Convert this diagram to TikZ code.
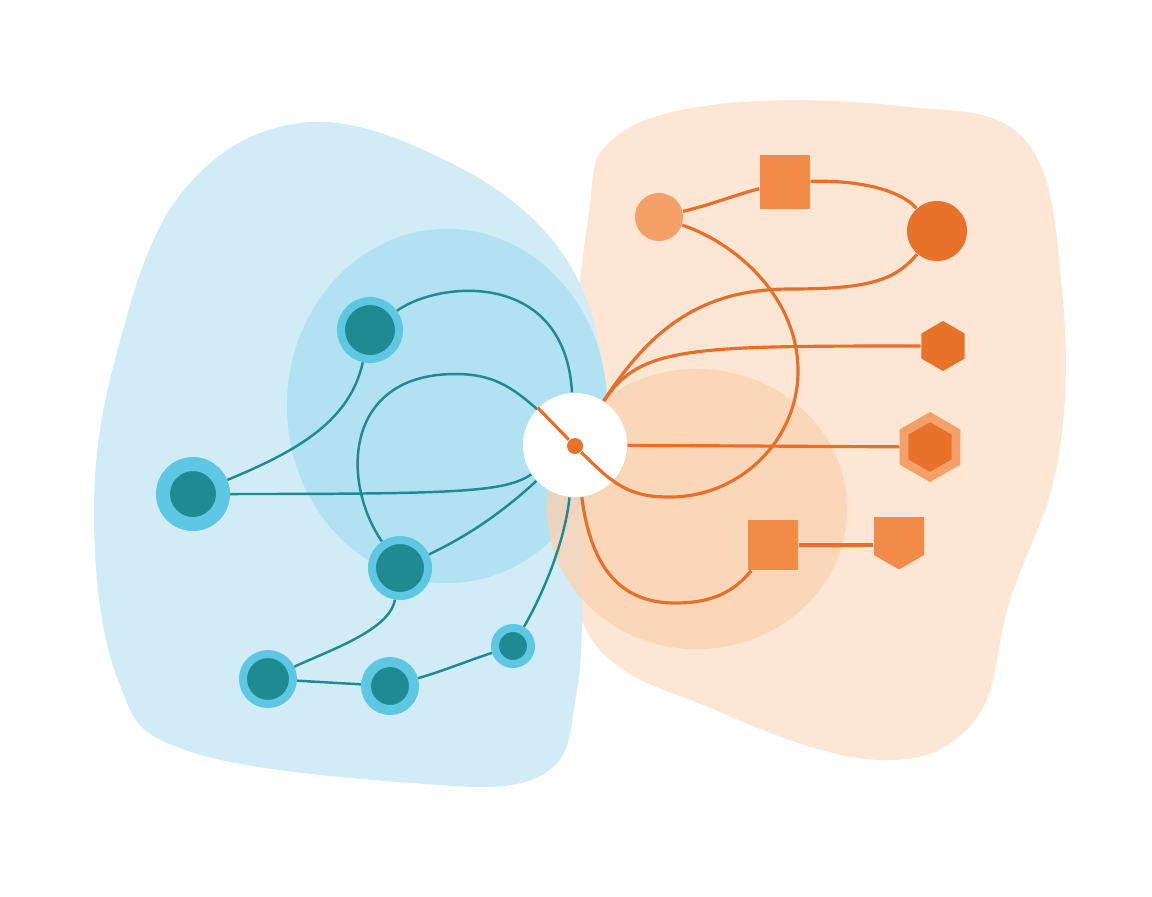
\documentclass[tikz,border=0pt]{standalone}
\usepackage{tikz}
\usetikzlibrary{shapes.geometric,shapes.symbols}

\definecolor{tealcore}{HTML}{1F8A92}
\definecolor{tealhalo}{HTML}{5EC8E2}
\definecolor{bluefar}{HTML}{D0ECF7}
\definecolor{bluenear}{HTML}{B2E1F2}
\definecolor{peachfar}{HTML}{FDE7D4}
\definecolor{peachnear}{HTML}{FBD3B4}
\definecolor{orangelight}{HTML}{F5A068}
\definecolor{orangemid}{HTML}{F28A48}
\definecolor{orangedark}{HTML}{E8722A}
\definecolor{orangewire}{HTML}{E86F2A}

\pgfdeclarelayer{blobs}
\pgfdeclarelayer{tealwires}
\pgfdeclarelayer{hublayer}
\pgfdeclarelayer{orangewires}
\pgfsetlayers{blobs,tealwires,hublayer,orangewires,main}

\tikzset{
  tealdot/.style args={#1/#2}{circle, inner sep=0pt, fill=tealcore, draw=tealhalo, line width=#2, minimum size=#1},
  tealline/.style={draw=tealcore, line width=0.7pt},
  orangeline/.style={draw=orangewire, line width=0.9pt},
  hexa/.style={regular polygon, regular polygon sides=6, shape border rotate=30, inner sep=0pt, fill=orangedark, minimum size=#1},
  box/.style={rectangle, inner sep=0pt, fill=orangemid, minimum width=0.50cm, minimum height=0.50cm}
}

\begin{document}
\begin{tikzpicture}[x=0.01cm, y=-0.01cm]
\useasboundingbox (0,0) rectangle (1152,896);

% teal cluster
\node[tealdot=0.58cm/0.08cm] (a) at (370,330) {};
\node[tealdot=0.60cm/0.14cm] (b) at (193,494) {};
\node[tealdot=0.56cm/0.08cm] (c) at (400,568) {};
\node[tealdot=0.50cm/0.08cm] (d) at (268,679) {};
\node[tealdot=0.48cm/0.10cm] (e) at (390,686) {};
\node[tealdot=0.36cm/0.08cm] (f) at (513,646) {};

% orange cluster
\node[circle, inner sep=0pt, fill=orangelight, minimum size=0.48cm] (o1) at (659,217) {};
\node[box, minimum height=0.53cm] (s1) at (785,182) {};
\node[circle, inner sep=0pt, fill=orangedark, minimum size=0.60cm] (o2) at (937,231) {};
\node[hexa=0.50cm] (h1) at (943,346) {};
\node[hexa=0.60cm, draw=orangelight, line width=0.087cm] (h2) at (930,447) {};
\node[box] (s2) at (773,545) {};
\node[shape=signal, signal to=south, signal from=nowhere, signal pointer angle=120, inner sep=0pt, fill=orangemid, minimum width=0.50cm, minimum height=0.38cm] (p1) at (899,536) {};

% hub
\begin{pgfonlayer}{hublayer}
\node[circle, inner sep=0pt, fill=white, minimum size=1.04cm] (hub) at (575,445) {};
\end{pgfonlayer}
\node[circle, inner sep=0pt, fill=orangedark, minimum size=0.16cm] (core) at (575,446) {};

% blobs
\begin{pgfonlayer}{blobs}
\fill[white] (0,0) rectangle (1152,896);
\fill[peachfar] plot[smooth cycle, tension=0.65] coordinates {(612,140) (720,104) (900,106) (1025,140) (1062,290) (1058,460) (1010,600) (975,720) (880,760) (720,712) (585,628) (570,420) (588,220)};
\fill[bluefar, opacity=0.95] plot[smooth cycle, tension=0.65] coordinates {(300,123) (445,160) (560,250) (604,380) (585,520) (577,690) (540,776) (400,782) (185,750) (118,680) (94,520) (115,360) (180,195)};
\fill[bluenear] (447,406) ellipse [x radius=1.60cm, y radius=1.77cm];
\fill[peachnear, opacity=0.8] (697,509) ellipse [x radius=1.50cm, y radius=1.40cm];
\end{pgfonlayer}

% teal wires
\begin{pgfonlayer}{tealwires}
\draw[tealline] (b) .. controls (300,450) and (350,420) .. (a);
\draw[tealline] (a) .. controls (440,280) and (565,270) .. (hub);
\draw[tealline] (b) .. controls (460,494) and (505,492) .. (hub);
\draw[tealline] (c) .. controls (340,480) and (345,374) .. (455,374) .. controls (500,374) and (520,391) .. (core);
\draw[tealline] (c) .. controls (470,535) and (505,510) .. (hub);
\draw[tealline] (f) .. controls (545,590) and (565,540) .. (hub);
\draw[tealline] (c) .. controls (390,630) and (330,650) .. (d);
\draw[tealline] (d) -- (e);
\draw[tealline] (e) .. controls (440,672) and (470,660) .. (f);
\end{pgfonlayer}

% orange wires
\begin{pgfonlayer}{orangewires}
\draw[orangeline] (hub.135) -- (core);
\draw[orangeline] (core) .. controls (615,486) and (630,497) .. (670,497) .. controls (740,497) and (798,440) .. (798,371) .. controls (798,300) and (740,245) .. (o1);
\draw[orangeline] (o1) .. controls (710,205) and (735,195) .. (s1);
\draw[orangeline] (s1) .. controls (860,180) and (900,190) .. (o2);
\draw[orangeline] (o2) .. controls (895,280) and (870,289) .. (790,289) .. controls (700,289) and (650,330) .. (hub);
\draw[orangeline] (h1) .. controls (690,346) and (640,346) .. (hub);
\draw[orangeline] (h2) -- (hub);
\draw[orangeline] (s2) .. controls (735,590) and (715,603) .. (675,603) .. controls (615,603) and (590,560) .. (hub);
\draw[orangeline] (s2) -- (s2 -| p1.west);
\end{pgfonlayer}
\end{tikzpicture}
\end{document}
